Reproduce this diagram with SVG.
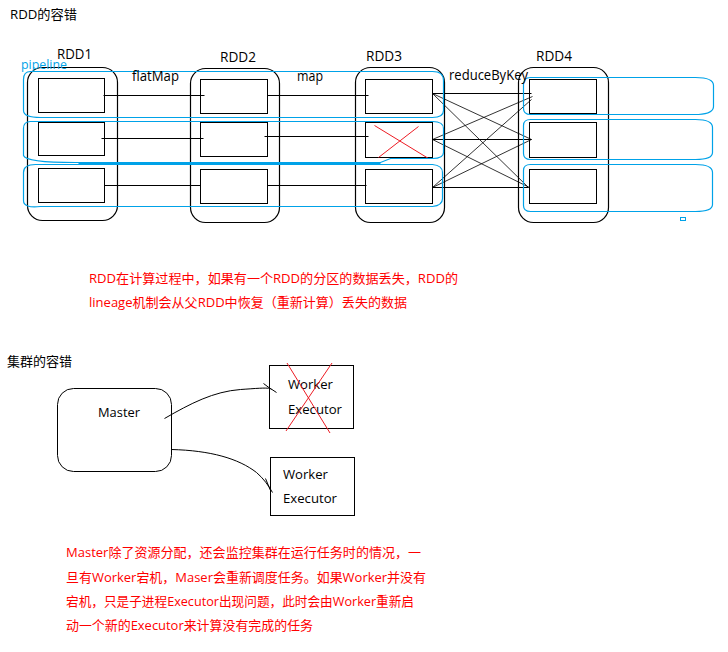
<svg xmlns="http://www.w3.org/2000/svg" width="728" height="652" viewBox="0 0 728 652">
<style>
  .bg{fill:#ffffff}
  .t{font-family:"Open Sans","Noto Sans CJK SC",sans-serif;font-size:13px;fill:#000000}
  .lbl{font-family:"Open Sans","Noto Sans CJK SC",sans-serif;font-size:14px;fill:#000000}
  .red{font-family:"Open Sans","Noto Sans CJK SC",sans-serif;font-size:13px;fill:#ff0000}
  .pl{font-family:"Open Sans","Noto Sans CJK SC",sans-serif;font-size:12px;fill:#00a2e8}
  .box{fill:none;stroke:#000000;stroke-width:1}
  .rdd{fill:none;stroke:#000000;stroke-width:1.2}
  .ln{fill:none;stroke:#000000;stroke-width:1}
  .thin{fill:none;stroke:#000000;stroke-width:0.8}
  .pipe{fill:none;stroke:#00a2e8;stroke-width:1.2}
  .x{fill:none;stroke:#ed1c24;stroke-width:1}
</style>
<rect class="bg" x="0" y="0" width="728" height="652"/>

<text class="t" x="10" y="19" textLength="67" lengthAdjust="spacingAndGlyphs">RDD的容错</text>

<g transform="translate(0.5 0.5)">
  <g id="rdd1">
    <rect class="rdd" x="27" y="67" width="90" height="153" rx="15"/>
    <rect class="box" x="38" y="78" width="66" height="34"/>
    <rect class="box" x="38" y="122" width="66" height="33"/>
    <rect class="box" x="38" y="168" width="66" height="34"/>
  </g>
  <g id="rdd2">
    <rect class="rdd" x="190" y="68" width="89" height="154" rx="15"/>
    <rect class="box" x="200" y="79" width="67" height="34"/>
    <rect class="box" x="200" y="122" width="67" height="34"/>
    <rect class="box" x="200" y="169" width="67" height="34"/>
  </g>
  <g id="rdd3">
    <rect class="rdd" x="355" y="67" width="89" height="155" rx="15"/>
    <rect class="box" x="365" y="79" width="67" height="34"/>
    <rect class="box" x="365" y="122" width="67" height="35"/>
    <rect class="box" x="365" y="169" width="67" height="34"/>
    <line class="x" x1="374" y1="125" x2="428" y2="158"/>
    <line class="x" x1="418" y1="126" x2="378" y2="157"/>
  </g>
  <g id="rdd4">
    <rect class="rdd" x="518" y="67" width="90" height="155" rx="15"/>
    <rect class="box" x="529" y="79" width="67" height="34"/>
    <rect class="box" x="529" y="122" width="67" height="35"/>
    <rect class="box" x="529" y="169" width="67" height="34"/>
  </g>

  <g id="connectors">
    <line class="ln" x1="103" y1="95" x2="204" y2="95"/>
    <line class="ln" x1="101" y1="138" x2="203" y2="138"/>
    <line class="ln" x1="104" y1="185" x2="200" y2="185"/>
    <line class="ln" x1="267" y1="95" x2="368" y2="95"/>
    <line class="ln" x1="264" y1="136" x2="368" y2="136"/>
    <line class="ln" x1="267" y1="185" x2="366" y2="185"/>
    <line class="ln" x1="432" y1="93" x2="531" y2="93"/>
    <line class="thin" x1="432" y1="93" x2="531" y2="139"/>
    <line class="thin" x1="432" y1="93" x2="528" y2="187"/>
    <line class="thin" x1="432" y1="139" x2="532" y2="96"/>
    <line class="ln" x1="432" y1="139" x2="531" y2="139"/>
    <line class="thin" x1="432" y1="139" x2="529" y2="187"/>
    <line class="thin" x1="432" y1="187" x2="531" y2="99"/>
    <line class="thin" x1="432" y1="187" x2="531" y2="139"/>
    <line class="ln" x1="432" y1="187" x2="528" y2="187"/>
    <path class="ln" d="M164,418 C190,403 213,391 240,389 C255,388 265,387 270,388 L276,392"/>
    <path class="ln" d="M263,383 L271,389"/>
    <path class="ln" d="M171,449 C210,450 238,458 256,472 C263,478 268,485 272,492"/>
    <path class="ln" d="M265,478 L270,490"/>
  </g>

  <g id="pipelines">
    <path class="pipe" d="M30,71 H432 Q443,71 443,80 V110 Q443,117 432,117 H40 Q23,117 23,110 V79 Q23,71 30,71 Z"/>
    <path class="pipe" d="M30,121 H432 Q443,121 443,128 V152 Q443,158 432,158 H390 L380,162 H75 Q25,162 23,155 V128 Q23,121 30,121 Z"/>
    <path class="pipe" d="M78,163 H380" style="stroke-width:1"/>
    <path class="pipe" d="M35,164 H432 Q442,165 442,172 V198 Q442,205 432,206 H40 Q23,208 23,200 V172 Q23,164 35,164 Z"/>
    <path class="pipe" d="M530,77 H695 Q713,77 713,85 V106 Q713,113 698,114 H530 Q523,114 523,108 V84 Q523,77 530,77 Z"/>
    <path class="pipe" d="M530,119 H695 Q712,119 712,127 V152 Q712,159 695,159 H530 Q523,159 523,153 V125 Q523,119 530,119 Z"/>
    <path class="pipe" d="M530,164 H695 Q712,164 712,172 V204 Q712,211 695,211 H530 Q523,211 523,205 V170 Q523,164 530,164 Z"/>
    <rect class="pipe" x="680" y="217" width="5" height="3" style="stroke-width:1"/>
  </g>

  <g id="master">
    <rect class="box" x="57" y="388" width="114" height="83" rx="16"/>
  </g>
  <g id="worker1">
    <rect class="box" x="269" y="365" width="84" height="63"/>
  </g>
  <g id="worker2">
    <rect class="box" x="270" y="457" width="84" height="58"/>
  </g>
</g>

<text class="lbl" x="57" y="59" textLength="35" lengthAdjust="spacingAndGlyphs">RDD1</text>
<text class="lbl" x="220" y="62" textLength="36" lengthAdjust="spacingAndGlyphs">RDD2</text>
<text class="lbl" x="366" y="61" textLength="36" lengthAdjust="spacingAndGlyphs">RDD3</text>
<text class="lbl" x="536" y="61" textLength="36" lengthAdjust="spacingAndGlyphs">RDD4</text>
<text class="pl" x="21" y="69" textLength="46" lengthAdjust="spacingAndGlyphs">pipeline</text>
<text class="lbl" x="132" y="81" textLength="47" lengthAdjust="spacingAndGlyphs">flatMap</text>
<text class="lbl" x="297" y="81" textLength="26" lengthAdjust="spacingAndGlyphs">map</text>
<text class="lbl" x="449" y="80" textLength="79" lengthAdjust="spacingAndGlyphs">reduceByKey</text>

<text class="red" x="89" y="283" textLength="369" lengthAdjust="spacingAndGlyphs">RDD在计算过程中，如果有一个RDD的分区的数据丢失，RDD的</text>
<text class="red" x="89" y="307" textLength="318" lengthAdjust="spacingAndGlyphs">lineage机制会从父RDD中恢复（重新计算）丢失的数据</text>

<text class="t" x="7" y="366" textLength="65" lengthAdjust="spacingAndGlyphs">集群的容错</text>

<g id="master-label"><text class="t" x="98" y="417" textLength="42" lengthAdjust="spacingAndGlyphs">Master</text></g>
<g id="worker1-label">
  <text class="t" x="288" y="389" textLength="45" lengthAdjust="spacingAndGlyphs">Worker</text>
  <text class="t" x="288" y="414" textLength="54" lengthAdjust="spacingAndGlyphs">Executor</text>
  <line class="x" x1="287" y1="363" x2="330" y2="433"/>
  <line class="x" x1="332" y1="363" x2="286" y2="431"/>
</g>
<g id="worker2-label">
  <text class="t" x="283" y="479" textLength="45" lengthAdjust="spacingAndGlyphs">Worker</text>
  <text class="t" x="283" y="503" textLength="54" lengthAdjust="spacingAndGlyphs">Executor</text>
</g>

<text class="red" x="66" y="557" textLength="355" lengthAdjust="spacingAndGlyphs">Master除了资源分配，还会监控集群在运行任务时的情况，一</text>
<text class="red" x="66" y="582" textLength="360" lengthAdjust="spacingAndGlyphs">旦有Worker宕机，Maser会重新调度任务。如果Worker并没有</text>
<text class="red" x="66" y="606" textLength="348" lengthAdjust="spacingAndGlyphs">宕机，只是子进程Executor出现问题，此时会由Worker重新启</text>
<text class="red" x="66" y="630" textLength="247" lengthAdjust="spacingAndGlyphs">动一个新的Executor来计算没有完成的任务</text>
</svg>
